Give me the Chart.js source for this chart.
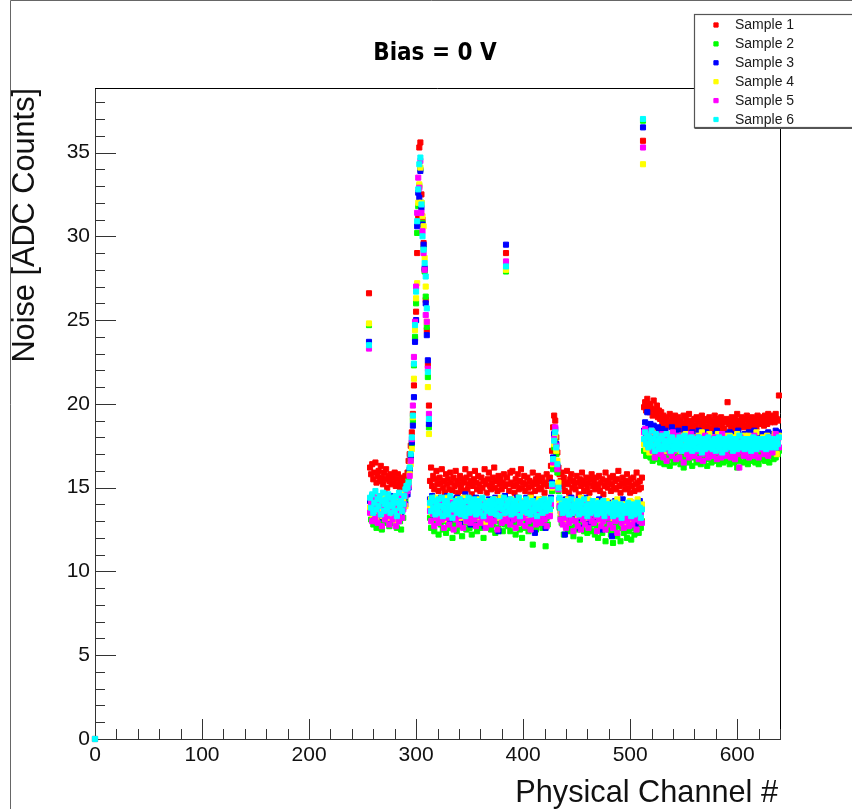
<!DOCTYPE html>
<html>
<head>
<meta charset="utf-8">
<title>Bias = 0 V</title>
<script src="https://cdn.jsdelivr.net/npm/chart.js@4.4.1/dist/chart.umd.min.js"></script>
<style>
  html, body { margin: 0; padding: 0; background: #fff; }
  canvas { display: block; }
</style>
</head>
<body>
<canvas id="noiseChart" width="852" height="809" style="width:852px;height:809px"></canvas>
<script>
// ---------------------------------------------------------------------------
// DATA - noise per physical channel, one array per sample.
// Each row holds 16 channels; row 0 starts at channel 256.
// ---------------------------------------------------------------------------
const channelStart = 256;
const channelCount = 384;
const zeroPoint = { channel: 0, noise: 0 };   // the lone point drawn at the origin

const sampleNames = ['Sample 1', 'Sample 2', 'Sample 3', 'Sample 4', 'Sample 5', 'Sample 6'];

const xTicks = [0, 100, 200, 300, 400, 500, 600];
const yTicks = [0, 5, 10, 15, 20, 25, 30, 35];

const sample1 = [
  26.6,16.2,15.8,16.4,15.5,15.9,16.5,15.3,15.7,16.0,15.4,16.3,15.6,15.2,15.9,15.5,
  16.1,15.0,15.7,15.4,15.8,15.2,15.6,15.3,15.9,15.1,15.5,15.8,15.2,15.0,15.4,15.6,
  15.1,15.3,15.7,15.2,15.9,16.6,17.0,17.5,18.3,19.4,21.1,23.9,25.5,29.0,31.2,35.3,
  35.6,32.5,31.0,29.6,28.0,26.2,24.4,22.3,19.9,15.4,16.2,15.1,15.7,14.9,15.5,16.0,
  15.2,14.8,15.6,15.3,16.1,15.0,15.4,14.7,15.8,15.2,15.5,14.9,15.9,15.3,14.8,15.6,
  15.1,16.0,15.4,14.7,15.2,15.7,15.0,15.5,14.8,15.3,16.1,15.6,14.9,15.2,15.8,15.4,
  14.6,15.1,15.5,16.0,15.3,14.9,15.7,15.2,14.8,15.6,15.0,15.4,16.1,15.2,14.7,15.5,
  15.9,15.1,14.9,15.3,15.6,16.2,15.0,15.4,14.8,15.7,15.2,15.5,14.9,15.3,15.8,15.1,
  29.0,15.6,15.2,14.8,15.9,15.3,16.0,15.1,14.7,15.5,15.2,15.8,14.9,15.4,16.1,15.0,
  15.3,15.7,14.8,15.2,15.6,15.0,15.4,14.6,15.1,15.9,15.3,14.8,15.5,15.2,15.7,14.9,
  15.4,15.0,15.6,15.2,14.7,15.3,15.8,15.1,15.5,15.6,16.3,17.2,18.6,19.3,19.0,18.0,
  17.1,16.2,15.8,15.4,15.9,15.1,15.6,14.8,15.3,16.0,15.2,14.7,15.5,15.8,15.0,15.4,
  15.2,14.9,15.7,15.3,14.6,15.5,15.1,15.9,15.4,14.8,15.2,15.6,15.0,15.3,14.7,15.5,
  15.8,15.1,15.4,14.9,15.6,15.2,15.0,15.7,14.8,15.3,15.5,14.6,15.1,15.9,15.4,15.0,
  15.3,15.6,14.8,15.2,15.7,15.0,15.4,14.9,15.5,16.0,15.1,14.7,15.3,15.6,15.2,14.9,
  15.4,15.8,15.0,15.3,14.7,15.5,15.1,15.6,14.8,15.2,15.9,15.3,14.9,15.4,15.0,15.6,
  35.7,19.8,20.1,19.6,20.3,19.9,19.5,20.0,19.7,19.3,20.2,19.6,19.4,19.9,19.2,19.6,
  19.1,19.5,18.8,19.3,19.0,18.6,19.2,18.9,18.7,19.4,18.8,19.1,18.5,19.0,19.3,18.7,
  18.9,19.2,18.6,19.0,18.4,18.8,19.3,18.7,19.1,18.5,18.9,19.4,18.6,19.0,18.8,18.5,
  19.1,18.7,19.2,18.9,18.4,19.0,18.6,19.3,18.8,18.5,19.1,18.7,19.0,18.6,19.2,18.9,
  18.5,19.0,18.8,19.3,18.6,18.9,19.1,18.4,18.8,19.2,18.7,19.0,18.5,18.9,19.1,20.1,
  18.8,19.0,18.6,19.2,18.9,18.5,19.1,18.7,19.4,18.8,19.0,18.6,19.2,18.9,18.7,19.1,
  18.6,19.3,18.9,18.5,19.0,18.8,19.2,18.7,19.1,18.9,18.6,19.3,19.0,18.8,19.2,18.9,
  19.1,18.7,19.3,19.0,18.8,19.4,19.1,18.9,19.3,19.0,19.2,18.9,19.4,19.1,19.0,20.5
];

const sample2 = [
  24.7,13.6,13.1,14.0,12.8,13.5,13.9,12.6,13.3,14.1,13.0,13.7,12.5,13.4,13.8,12.9,
  13.5,14.2,13.1,12.7,13.6,13.3,14.0,12.9,13.4,13.8,12.6,13.2,13.9,13.0,12.5,13.6,
  13.2,13.9,14.3,14.6,15.0,15.4,16.0,16.7,17.6,19.0,22.3,24.0,26.0,30.2,31.8,33.0,
  34.0,32.0,30.8,29.3,27.9,26.4,24.6,21.6,18.6,13.2,12.6,13.8,13.1,12.4,13.5,12.9,
  13.3,12.2,13.7,12.8,13.4,12.5,13.0,13.6,12.3,13.2,12.9,13.8,12.6,13.1,12.0,13.4,
  12.8,13.5,12.4,13.0,13.7,12.7,13.2,12.1,13.6,12.9,13.3,12.5,13.8,13.0,12.6,13.4,
  12.2,13.1,13.6,12.8,13.3,12.4,13.9,12.9,13.2,12.6,13.5,12.0,13.1,13.7,12.7,13.4,
  12.9,13.3,12.5,13.6,12.8,13.2,12.3,13.7,13.0,12.6,13.4,12.9,13.1,12.4,13.5,12.8,
  27.9,13.2,12.7,13.6,12.4,13.0,13.5,12.8,13.3,12.2,13.7,12.9,13.1,12.5,13.4,12.0,
  13.3,12.6,13.8,12.9,13.1,12.4,13.5,12.7,13.2,11.6,13.0,13.6,12.5,13.2,12.8,13.4,
  12.9,13.3,12.6,13.7,13.0,11.5,13.2,12.8,13.5,13.4,13.9,14.8,16.1,17.4,17.9,17.0,
  15.9,14.8,13.8,13.2,12.9,13.4,12.2,13.1,12.7,13.6,12.4,13.0,13.3,12.6,13.5,12.1,
  13.2,12.8,13.4,12.5,13.0,11.9,13.3,12.7,13.1,12.4,13.6,12.9,12.3,13.2,12.6,13.0,
  12.4,13.1,12.8,12.2,13.4,12.7,12.0,13.2,12.5,13.0,12.3,13.3,12.6,11.8,12.9,13.1,
  12.5,12.9,12.2,13.2,11.7,12.8,12.4,13.0,12.1,12.7,13.3,11.8,12.6,12.9,12.3,13.1,
  12.7,12.0,12.9,12.4,13.2,11.9,12.6,13.0,12.2,12.8,12.5,13.1,12.3,12.9,12.6,13.0,
  36.9,17.2,17.6,16.9,17.4,17.0,17.7,16.8,17.3,16.6,17.5,17.1,16.7,17.4,16.9,17.2,
  16.5,17.3,16.8,17.0,16.4,17.5,16.9,16.6,17.2,16.3,17.0,16.8,17.4,16.5,17.1,16.7,
  17.0,16.6,17.3,16.4,16.9,17.1,16.2,16.8,17.4,16.7,17.0,16.5,17.2,16.9,16.3,17.1,
  16.8,17.3,16.5,17.0,16.7,17.4,16.4,16.9,17.1,16.6,17.2,16.8,16.3,17.0,16.7,17.3,
  16.5,17.1,16.8,17.4,16.6,16.9,17.2,16.4,17.0,16.7,17.3,16.5,17.1,16.8,16.6,17.2,
  16.9,16.4,17.1,16.7,17.3,16.5,17.0,16.8,16.2,17.2,16.6,17.0,16.9,17.4,16.5,17.1,
  16.7,17.2,16.4,17.0,16.8,17.3,16.6,16.9,17.1,16.5,17.2,16.8,16.4,17.0,16.7,17.3,
  16.9,17.1,16.6,17.3,16.8,17.0,16.5,17.2,16.9,17.4,16.7,17.1,16.8,17.3,17.0,17.2
];

const sample3 = [
  23.7,14.2,13.6,14.5,13.9,13.3,14.1,13.7,14.4,13.2,13.8,14.3,13.5,14.0,13.4,14.6,
  13.9,13.3,14.2,13.7,14.5,13.1,13.8,14.0,13.4,14.3,13.6,13.0,13.9,14.4,13.5,14.1,
  13.8,14.4,14.0,14.7,14.6,15.0,16.1,16.9,17.7,18.7,20.4,23.7,25.0,30.6,32.6,32.3,
  33.9,31.7,30.7,29.5,28.1,26.0,24.1,22.6,18.8,14.3,13.7,14.5,13.4,14.0,13.2,13.8,
  14.1,13.5,13.9,14.4,13.1,13.7,14.2,13.3,13.8,14.5,13.6,13.0,14.0,13.4,14.3,13.7,
  13.2,13.9,14.4,13.5,14.1,12.9,13.7,14.3,13.4,13.8,14.6,13.3,13.9,13.6,14.2,12.8,
  13.8,14.2,13.5,13.9,14.4,13.1,13.7,14.0,13.3,14.3,13.6,13.9,12.7,14.1,13.4,13.8,
  14.3,13.5,13.9,13.2,14.1,13.7,14.4,13.4,13.8,12.4,14.0,13.6,14.2,13.3,13.9,14.5,
  29.5,13.6,14.0,13.3,14.3,13.8,13.1,14.1,13.5,13.9,14.4,13.2,13.7,14.2,13.4,13.9,
  14.1,13.3,13.8,14.4,13.5,13.0,14.2,13.7,13.9,13.4,14.3,12.3,13.8,14.0,13.6,14.2,
  13.5,13.9,14.3,13.3,13.8,12.6,14.1,13.6,14.0,13.8,14.4,15.3,16.8,18.2,18.5,17.6,
  16.3,15.1,14.3,13.6,14.2,13.5,13.9,12.2,14.3,13.7,13.3,14.0,13.6,14.4,13.1,13.8,
  14.1,13.4,13.9,13.2,14.3,12.6,13.8,14.0,13.5,13.7,14.4,13.3,13.9,12.9,14.1,13.6,
  13.7,14.2,13.4,13.8,13.1,14.0,13.5,14.3,13.3,13.9,12.5,14.1,13.6,13.8,13.2,14.0,
  13.8,13.3,14.1,12.1,13.9,13.6,14.2,13.4,13.7,14.0,13.2,13.8,13.5,14.3,13.1,13.9,
  13.5,14.0,13.4,13.8,13.2,14.1,13.6,13.3,13.9,12.8,14.0,13.5,13.7,14.2,13.4,13.8,
  36.5,18.4,18.9,18.1,19.5,18.6,18.3,18.8,17.5,18.2,18.7,17.9,18.4,18.0,18.6,17.8,
  18.3,17.7,18.5,18.0,17.6,18.4,17.9,18.2,17.4,18.1,17.8,18.6,17.5,18.0,17.7,18.3,
  17.9,18.4,17.6,18.1,17.3,18.0,17.8,18.5,17.5,17.9,18.2,17.4,18.0,17.7,18.3,17.6,
  18.1,17.5,18.0,17.8,18.4,17.2,17.9,18.2,17.6,18.0,17.4,18.3,17.7,18.1,17.5,17.9,
  17.8,18.2,17.5,18.0,17.7,18.4,17.3,17.9,18.1,17.6,18.0,17.4,18.2,17.8,17.6,18.1,
  17.7,18.3,17.9,17.4,18.0,17.6,18.2,17.8,17.5,18.4,17.9,17.7,18.1,17.3,17.8,18.2,
  17.6,18.0,17.8,18.3,17.5,17.9,18.1,17.7,18.4,17.6,18.0,17.8,18.2,17.5,17.9,18.1,
  17.8,18.2,17.6,18.0,17.9,18.3,17.7,18.1,17.5,18.0,18.2,17.8,18.4,17.9,18.1,18.3
];

const sample4 = [
  24.8,13.8,14.3,13.4,14.0,13.6,14.4,13.1,13.9,14.2,13.5,13.8,14.1,13.3,14.5,13.7,
  14.0,13.4,13.9,14.3,13.2,13.8,14.1,13.6,14.4,13.0,13.7,14.2,13.5,13.9,14.3,13.8,
  14.2,14.6,13.9,14.8,15.1,15.2,15.8,16.4,17.3,19.2,21.5,24.4,26.3,27.2,32.0,33.1,
  34.1,32.0,31.2,30.6,28.7,27.0,24.9,21.0,18.2,13.9,14.3,13.5,14.0,13.7,14.4,13.2,
  13.8,14.1,13.4,13.9,14.3,13.6,13.1,14.0,13.7,14.4,13.5,13.8,14.2,13.3,13.9,14.1,
  13.6,14.0,13.4,14.3,13.8,13.2,14.1,13.7,13.9,14.4,13.5,13.0,14.2,13.8,13.6,14.0,
  13.3,13.9,14.2,13.6,14.0,13.4,13.8,14.3,13.1,13.7,14.1,13.5,13.9,12.9,14.0,13.6,
  14.2,13.7,13.4,14.0,13.8,14.3,13.5,13.9,14.1,13.2,13.8,14.4,13.6,14.0,13.3,13.9,
  28.0,13.8,14.2,13.5,13.9,14.3,13.4,14.0,13.7,14.1,13.2,13.8,14.4,13.6,13.9,14.2,
  13.5,14.0,13.8,13.3,14.2,13.7,13.9,14.4,13.4,13.8,14.1,13.6,13.0,14.0,13.7,14.3,
  13.8,13.4,14.1,13.7,14.3,13.5,13.9,14.2,13.6,13.6,14.2,15.0,16.4,17.6,18.1,17.2,
  16.6,15.3,14.1,13.5,13.9,14.2,13.6,13.0,14.0,13.7,14.3,13.4,13.8,14.1,13.5,13.9,
  14.2,13.6,13.9,13.3,14.0,13.7,14.4,13.5,13.8,14.1,13.2,13.9,13.6,14.3,13.4,13.8,
  13.7,14.1,13.5,13.9,14.2,13.3,13.8,14.0,13.6,12.9,14.1,13.7,13.4,13.9,14.2,13.6,
  13.9,13.5,14.0,13.7,13.2,14.1,13.8,13.4,14.3,13.6,13.9,13.3,14.0,13.7,12.8,13.8,
  14.0,13.6,13.9,13.4,14.2,13.7,13.1,13.8,14.1,13.5,13.9,14.3,13.6,13.8,13.3,14.0,
  34.3,17.6,17.9,17.3,18.2,17.8,17.1,17.9,17.5,18.3,17.7,17.4,18.0,17.6,18.1,17.3,
  17.8,17.4,18.1,17.6,17.9,17.2,18.0,17.5,17.8,18.2,17.4,17.7,18.0,17.3,17.9,17.6,
  18.0,17.5,17.8,17.2,18.1,17.6,17.9,17.3,18.2,17.7,17.4,18.0,17.6,17.9,17.1,17.8,
  17.5,18.0,17.7,17.4,18.1,17.6,17.8,18.3,17.5,17.9,17.2,18.0,17.7,17.4,18.2,17.6,
  17.9,17.3,18.0,17.6,17.8,17.4,18.2,17.7,17.5,18.0,17.3,17.8,18.1,17.6,17.9,17.4,
  17.7,18.1,17.5,17.9,17.3,18.0,17.6,17.8,18.2,17.4,17.9,17.6,18.0,17.5,17.8,18.1,
  17.4,17.9,17.7,18.1,17.5,17.8,17.2,18.0,17.6,17.9,18.3,17.5,17.8,17.3,17.9,17.6,
  18.0,17.6,17.9,17.4,18.1,17.7,17.5,18.0,17.8,17.3,17.9,18.2,17.6,17.0,17.8,18.1
];

const sample5 = [
  23.3,13.5,14.1,13.0,13.8,14.4,13.2,13.7,12.9,14.0,13.4,13.9,12.7,14.2,13.6,13.1,
  13.8,13.3,14.3,12.8,13.6,14.0,13.1,13.9,13.4,12.7,14.1,13.5,13.0,13.8,14.4,13.2,
  13.7,14.0,14.5,14.9,14.8,15.1,15.7,16.6,17.9,19.9,22.8,24.9,27.0,31.4,33.5,32.9,
  34.5,31.4,30.3,29.0,28.0,25.3,24.9,22.1,19.4,13.6,13.0,14.1,13.4,12.7,13.8,13.2,
  13.9,12.9,13.5,14.2,13.1,13.7,12.6,13.4,14.0,13.2,13.8,12.8,13.6,14.1,13.3,12.5,
  13.7,13.1,14.0,13.4,12.8,13.9,13.3,13.6,12.6,14.2,13.5,13.0,13.8,13.2,13.9,12.9,
  13.4,14.0,13.1,13.7,12.7,13.5,14.1,13.3,12.9,13.8,13.2,13.6,14.0,12.6,13.5,13.1,
  13.8,13.2,12.8,13.6,14.1,13.0,13.7,13.4,12.5,13.9,13.3,13.6,12.9,14.0,13.1,13.5,
  28.5,13.0,13.7,13.3,12.8,14.0,13.5,13.1,13.8,12.6,13.4,13.9,13.2,12.9,13.6,14.1,
  13.2,13.6,12.7,13.9,13.4,13.0,13.7,12.5,13.5,14.0,13.1,13.8,12.8,13.3,13.6,13.0,
  13.7,12.9,13.4,14.0,13.1,13.6,12.7,13.9,13.3,13.3,14.0,15.1,16.5,17.9,18.6,17.5,
  16.1,14.9,13.9,13.1,13.5,12.8,13.9,13.2,12.6,13.7,13.4,12.9,14.0,13.1,13.6,12.4,
  13.8,13.0,13.5,12.7,13.9,13.3,12.5,13.6,13.1,13.8,12.8,13.4,14.0,12.6,13.2,13.7,
  13.0,13.5,12.9,13.8,13.3,12.4,13.6,13.1,13.9,12.7,13.4,13.0,13.7,12.5,13.5,13.2,
  13.6,12.8,13.3,13.9,12.6,13.4,13.0,13.7,12.3,13.5,13.1,13.8,12.9,13.4,12.6,13.2,
  13.4,13.0,13.7,12.7,13.5,13.2,12.8,13.9,13.1,13.6,12.5,13.3,13.8,13.0,13.5,12.9,
  35.3,18.3,18.5,17.8,18.2,17.5,18.0,17.6,18.4,17.2,17.9,16.8,18.1,17.4,17.7,17.1,
  17.8,17.0,18.2,16.8,17.5,17.9,16.6,17.3,18.0,17.1,17.6,16.9,18.3,17.2,17.7,16.7,
  17.4,18.1,16.8,17.6,17.2,17.9,16.5,17.4,18.0,17.0,17.7,16.8,17.5,18.2,17.1,17.3,
  16.9,17.6,17.2,18.0,16.7,17.4,17.8,17.0,16.6,17.5,18.1,17.1,17.3,16.8,17.9,17.2,
  17.6,16.9,17.4,18.0,17.1,16.7,17.8,17.3,17.5,16.8,18.2,17.0,17.6,17.2,16.9,17.7,
  17.3,17.8,16.8,17.5,17.1,17.9,16.7,17.4,17.0,17.6,16.2,18.0,17.2,17.5,16.9,17.7,
  17.1,17.6,17.3,16.8,17.9,17.2,17.5,16.9,18.1,17.0,17.4,17.7,16.8,17.6,17.3,17.8,
  17.5,17.0,17.8,17.2,17.6,16.9,18.0,17.3,17.7,17.1,17.9,17.4,18.2,17.6,17.8,17.4
];

const sample6 = [
  23.5,14.4,13.8,14.6,13.5,14.1,14.8,13.7,14.3,13.9,14.5,13.4,14.2,14.7,13.6,14.0,
  14.3,13.7,14.6,14.0,13.5,14.4,13.9,14.2,13.6,14.5,13.3,14.1,14.7,13.8,14.2,13.6,
  14.0,14.5,14.9,15.1,15.0,15.3,16.2,17.0,18.0,19.3,22.4,24.7,26.7,30.9,32.8,34.3,
  34.7,31.9,30.0,29.2,28.4,27.6,25.7,21.9,19.1,14.1,13.6,14.4,13.8,14.2,13.4,14.0,
  13.7,14.3,13.5,13.9,14.4,13.3,13.8,14.1,13.6,14.2,13.4,13.9,14.5,13.7,13.2,14.0,
  13.8,14.2,13.5,14.0,13.7,14.3,13.4,13.9,14.1,13.6,13.3,14.2,13.8,14.4,13.5,13.9,
  14.1,13.6,14.3,13.8,13.4,14.0,13.7,14.2,13.5,13.9,14.4,13.3,13.8,14.1,13.6,14.0,
  13.7,14.2,13.5,13.9,14.3,13.6,14.0,13.4,13.8,14.2,13.3,13.9,14.1,13.7,14.4,13.5,
  28.2,13.9,14.1,13.6,14.3,13.4,13.8,14.0,13.5,14.2,13.7,13.9,14.4,13.3,13.8,14.1,
  13.6,14.0,13.8,14.3,13.5,13.9,14.1,13.4,13.7,14.2,13.6,13.9,14.0,13.3,13.8,14.1,
  13.7,14.2,13.5,13.9,14.3,13.6,14.0,13.8,14.1,13.7,14.3,15.2,16.7,17.8,18.3,17.4,
  16.4,15.0,14.4,13.8,14.0,13.5,13.9,14.2,13.6,13.8,14.1,13.4,13.9,14.3,13.5,13.7,
  14.0,13.6,13.9,14.2,13.4,13.8,14.1,13.5,13.7,14.3,13.6,13.9,13.3,14.0,13.7,13.5,
  13.9,14.2,13.6,13.8,14.0,13.4,13.7,14.1,13.5,13.9,13.6,14.2,13.3,13.8,14.0,13.6,
  13.7,14.0,13.5,13.9,13.3,13.8,14.1,13.6,13.9,13.4,13.7,14.0,13.2,13.8,13.5,13.9,
  13.6,13.9,14.1,13.5,13.8,13.3,14.0,13.7,13.4,13.9,13.6,14.1,13.5,13.8,13.2,13.7,
  37.0,17.9,18.3,17.6,18.1,17.4,18.0,17.7,18.4,17.5,17.9,17.2,18.2,17.6,17.8,17.3,
  17.9,17.5,18.1,17.3,17.8,17.6,18.2,17.4,17.7,17.9,17.2,18.0,17.5,17.8,17.3,17.6,
  17.8,17.4,18.0,17.6,17.2,17.9,17.5,18.1,17.3,17.7,17.9,17.4,17.6,18.0,17.2,17.7,
  17.5,17.9,17.3,17.7,18.0,17.4,17.8,17.1,17.6,17.9,17.3,17.7,17.5,18.0,17.4,17.6,
  17.8,17.3,17.6,17.9,17.2,17.7,17.5,18.0,17.4,17.8,17.1,17.6,17.9,17.3,17.7,17.5,
  17.6,18.0,17.4,17.7,17.2,17.9,17.5,17.8,17.3,17.6,18.1,17.4,17.7,17.5,17.9,17.3,
  17.7,17.4,17.9,17.5,17.8,17.2,17.6,18.0,17.4,17.7,17.3,17.9,17.5,17.8,17.6,17.4,
  17.9,17.5,17.8,17.3,17.7,18.0,17.6,17.4,17.8,17.5,17.9,17.7,17.4,17.8,17.6,18.0
];

const samples = [sample1, sample2, sample3, sample4, sample5, sample6];

// ---------------------------------------------------------------------------
// STYLE
// ---------------------------------------------------------------------------
const sampleColors = ['#ff0000', '#00ff00', '#0000ff', '#ffff00', '#ff00ff', '#00ffff'];
const textFont = '"Liberation Sans", Arial, Helvetica, sans-serif';
const markerStyle = 'rect';
const markerRadius = 3.6;
const markerLine = 1;

samples.forEach((s, i) => {
    if (s.length !== channelCount) throw new Error(sampleNames[i] + ' has ' + s.length + ' values');
});

const datasets = samples.map((values, i) => ({
    label: sampleNames[i],
    data: [{ x: zeroPoint.channel, y: zeroPoint.noise }]
        .concat(values.map((v, k) => ({ x: channelStart + k, y: v }))),
    pointStyle: markerStyle,
    pointRadius: markerRadius,
    pointBorderWidth: markerLine,
    borderColor: sampleColors[i],
    backgroundColor: sampleColors[i],
    showLine: false,
    clip: false,
    order: samples.length - i      // later samples end up on top, like ROOT
}));

// ---------------------------------------------------------------------------
// ROOT LOOK: inner ticks, frame, titles, legend box
// ---------------------------------------------------------------------------
const rootLook = {
    id: 'rootLook',
    beforeDatasetsDraw(chart) {
        const ctx = chart.ctx;
        const a = chart.chartArea;
        const xs = chart.scales.x, ys = chart.scales.y;
        ctx.save();

        // outer pad border
        ctx.strokeStyle = '#666';
        ctx.lineWidth = 1;
        ctx.beginPath();
        ctx.moveTo(10.5, 809);
        ctx.lineTo(10.5, 0.5);
        ctx.lineTo(852, 0.5);
        ctx.stroke();

        // frame top and right
        ctx.strokeStyle = '#000';
        ctx.beginPath();
        ctx.moveTo(a.left, a.top + 0.5);
        ctx.lineTo(a.right + 0.5, a.top + 0.5);
        ctx.lineTo(a.right + 0.5, a.bottom);
        ctx.stroke();

        // ticks drawn inside the frame
        ctx.strokeStyle = '#333';
        ctx.beginPath();
        for (let v = xs.min; v <= xs.max; v += 20) {
            const px = Math.round(xs.getPixelForValue(v)) + 0.5;
            const len = v % 100 === 0 ? 20 : 10;
            ctx.moveTo(px, a.bottom);
            ctx.lineTo(px, a.bottom - len);
        }
        for (let v = 0; v <= ys.max; v += 1) {
            const py = Math.round(ys.getPixelForValue(v)) + 0.5;
            const len = v % 5 === 0 ? 21 : 10;
            ctx.moveTo(a.left, py);
            ctx.lineTo(a.left + len, py);
        }
        ctx.stroke();
        ctx.restore();
    },
    afterDraw(chart) {
        const ctx = chart.ctx;
        const a = chart.chartArea;
        ctx.save();

        // title
        ctx.fillStyle = '#000';
        ctx.font = 'bold 24px "DejaVu Sans Condensed", "DejaVu Sans", sans-serif';
        ctx.textAlign = 'center';
        ctx.textBaseline = 'alphabetic';
        ctx.fillText('Bias = 0 V', 435, 60);

        // axis titles
        ctx.fillStyle = '#111';
        ctx.font = '30.7px ' + textFont;
        ctx.textAlign = 'right';
        ctx.fillText('Physical Channel #', a.right - 2, 802);

        ctx.save();
        ctx.translate(34, a.top);
        ctx.rotate(-Math.PI / 2);
        ctx.textAlign = 'right';
        ctx.fillText('Noise [ADC Counts]', 0, 0);
        ctx.restore();

        // legend box
        const box = { left: 694.5, top: 14.5, right: 853, bottom: 127.5 };
        ctx.fillStyle = '#fff';
        ctx.fillRect(box.left, box.top, box.right - box.left, box.bottom - box.top);
        ctx.strokeStyle = '#555';
        ctx.lineWidth = 1.2;
        ctx.strokeRect(box.left, box.top, box.right - box.left, box.bottom - box.top);
        ctx.lineWidth = 2;
        ctx.beginPath();
        ctx.moveTo(box.left, box.bottom + 0.5);
        ctx.lineTo(box.right, box.bottom + 0.5);
        ctx.stroke();

        ctx.font = '14px ' + textFont;
        ctx.textAlign = 'left';
        ctx.textBaseline = 'middle';
        chart.data.datasets.forEach((ds, i) => {
            const y = 25 + i * 18.9;
            ctx.strokeStyle = ds.borderColor;
            ctx.fillStyle = ds.borderColor;
            ctx.lineWidth = markerLine;
            Chart.helpers.drawPoint(ctx, {
                pointStyle: markerStyle, radius: 3, borderWidth: markerLine, rotation: 0
            }, 716, y);
            ctx.fillStyle = '#1a1a1a';
            ctx.fillText(ds.label, 735, y + 0.5);
        });
        ctx.restore();
    }
};

// ---------------------------------------------------------------------------
// CHART
// ---------------------------------------------------------------------------
new Chart(document.getElementById('noiseChart'), {
    type: 'scatter',
    data: { datasets },
    options: {
        responsive: false,
        devicePixelRatio: 1,
        animation: false,
        layout: { padding: { top: 88, right: 72, bottom: 0, left: 0 } },
        plugins: {
            legend: { display: false },
            tooltip: { enabled: false },
            title: { display: false }
        },
        scales: {
            x: {
                type: 'linear',
                min: 0,
                max: 640,
                afterFit: (scale) => { scale.height = 70; },
                afterBuildTicks: (scale) => { scale.ticks = xTicks.map(v => ({ value: v })); },
                ticks: { color: '#111', padding: 4, maxRotation: 0, font: { family: textFont, size: 21 } },
                grid: { drawOnChartArea: false, drawTicks: false },
                border: { display: true, color: '#333', width: 1 }
            },
            y: {
                type: 'linear',
                min: 0,
                max: 38.85,
                afterFit: (scale) => { scale.width = 95; },
                afterBuildTicks: (scale) => { scale.ticks = yTicks.map(v => ({ value: v })); },
                ticks: { color: '#111', padding: 5, font: { family: textFont, size: 21 } },
                grid: { drawOnChartArea: false, drawTicks: false },
                border: { display: true, color: '#333', width: 1 }
            }
        }
    },
    plugins: [rootLook]
});
</script>
</body>
</html>
